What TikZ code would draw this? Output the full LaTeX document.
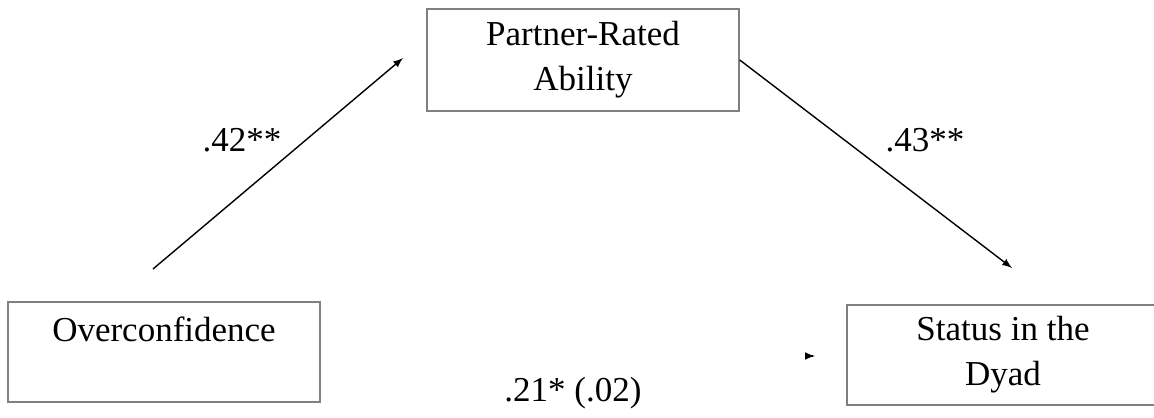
\documentclass[tikz,border=0pt]{standalone}
\usepackage{fontspec}
\setmainfont{Liberation Serif}
\usetikzlibrary{arrows}

\begin{document}
\begin{tikzpicture}[x=0.5pt, y=-0.5pt, ->, >=latex, line width=0.7pt,
  box/.style={draw=gray, line width=0.75pt, inner sep=0pt, minimum width=156pt,
    minimum height=50pt, align=center, font=\fontsize{17.5}{22.5}\selectfont},
  coef/.style={font=\fontsize{17.5}{22}\selectfont}]
%
\useasboundingbox (0,0) rectangle (1154,417);
%
\node (ability) [box, minimum height=51pt] at (583,60) {Partner-Rated\\Ability};
\node (over) [box] at (164,352) {Overconfidence\\~};
\node (status) [box] at (1003,355) {Status in the\\Dyad};
%
\coordinate (a1) at (153,269);
\coordinate (a2) at (403,58);
\coordinate (b2) at (1012,268);
\coordinate (tip) at (815,356);
%
\draw (a1) -- (a2);
\draw (ability.east) -- (b2);
\draw ([xshift=-1pt]tip) -- (tip);
%
\node [coef] at (242,140) {.42**};
\node [coef] at (925,140) {.43**};
\node [coef] at (573,393) {.21* (.02)};
\end{tikzpicture}
\end{document}
